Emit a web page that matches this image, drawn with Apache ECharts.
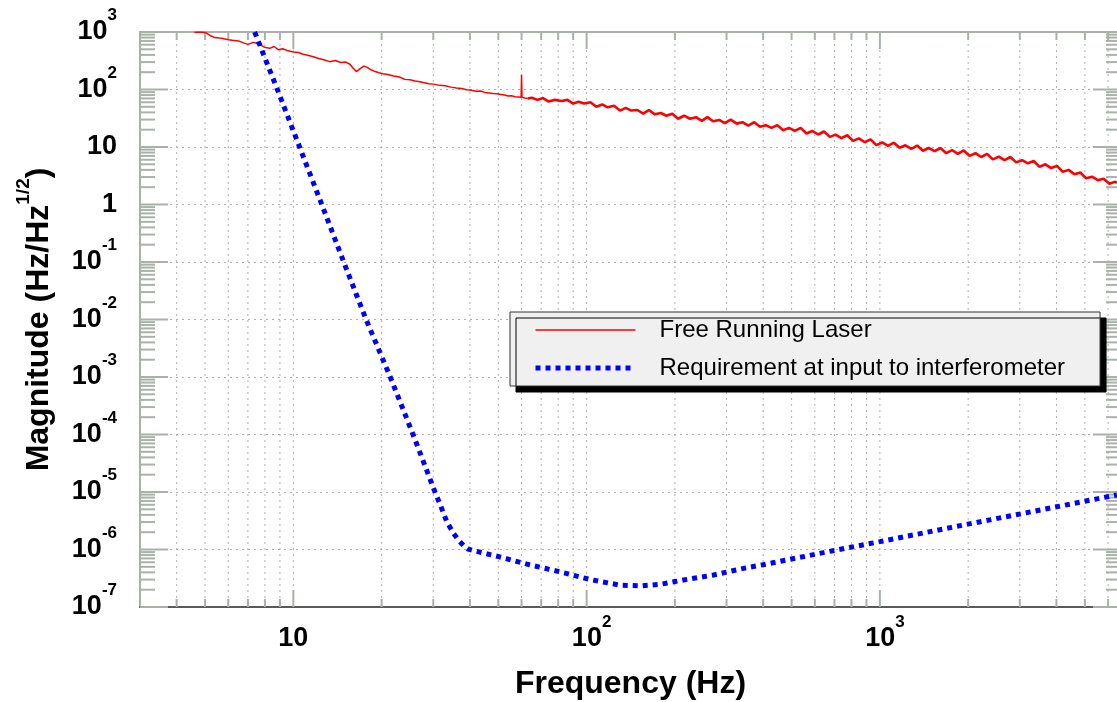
<!DOCTYPE html>
<html>
<head>
<meta charset="utf-8">
<script src="https://cdn.jsdelivr.net/npm/echarts@6/dist/echarts.min.js"></script>
<style>
html, body { margin: 0; padding: 0; background: #fff; }
#chart { width: 1117px; height: 702px; }
</style>
</head>
<body>
<div id="chart"></div>
<script>
// free running laser noise (Hz, Hz/rtHz)
const laserFreq = [
  4.6, 4.8, 5.0, 5.2, 5.4, 5.6, 5.8, 6.0, 6.2, 6.5,
  6.8, 7.0, 7.3, 7.5, 7.8, 8.0, 8.3, 8.6, 8.9, 9.2,
  9.6, 10, 10.4, 10.8, 11.2, 11.7, 12.2, 12.7, 13.3, 13.9,
  14.5, 15.1, 15.6, 16.0, 16.4, 16.9, 17.4, 17.8, 18.4, 19.0,
  19.6, 20.2,
  21, 22, 23, 24, 25, 26, 27, 28, 29, 30,
  31.5, 33, 34.5, 36, 37.5, 39, 40.5, 42, 43.5, 45,
  46.5, 48, 49.5, 51, 52.5, 54, 55.5, 57, 58.5, 59.8,
  60, 60.2, 61.5, 63,
  65, 68, 71, 74, 78, 82, 86, 90, 94, 98,
  103, 108, 113, 118, 124, 130, 136, 142, 149, 156,
  163, 171, 179, 187, 196, 205, 215, 225, 236, 247,
  258, 270, 283, 296, 310, 325, 340, 356, 373, 390,
  408, 427, 447, 468, 490, 513, 537, 562, 588, 616,
  645, 675, 706, 739, 774, 810, 848, 888, 929, 973,
  1018, 1066, 1116, 1168, 1222, 1280, 1340, 1402, 1468, 1537,
  1609, 1684, 1763, 1845, 1932, 2022, 2117, 2216, 2320, 2428,
  2542, 2661, 2786, 2916, 3053, 3196, 3345, 3502, 3666, 3838,
  4017, 4205, 4402, 4608, 4824, 5050, 5287, 5534, 5793, 6065,
  6349, 6430
];
const laserMag = [
  990, 1000, 985, 870, 800, 790, 760, 735, 720, 700,
  640, 610, 660, 640, 580, 540, 520, 560, 490, 510,
  470, 450, 440, 410, 395, 370, 345, 330, 305, 320,
  295, 300, 275, 235, 205, 230, 255, 245, 220, 205,
  195, 188,
  182, 172, 165, 150, 148, 140, 136, 131, 126, 124,
  118, 116, 110, 106, 104, 99, 97, 93, 94, 89,
  87, 85, 84, 82, 80, 77, 78, 75, 74, 73,
  180, 73, 71, 70,
  72, 66, 71, 62, 66, 63, 66, 57, 61, 57,
  60, 50, 55, 49, 52, 43, 48, 43, 44, 38,
  44, 37, 39, 35, 38, 31, 35, 31, 33, 28.5,
  33, 28, 29.5, 26, 30, 25.5, 27, 23.5, 27, 22.5,
  24, 21.5, 24, 19.6, 21.5, 19, 21.5, 17.2, 19, 16.5,
  18.6, 15, 16.4, 14.3, 16, 12.8, 14.1, 12.1, 13.6, 10.8,
  12, 10.5, 11.9, 9.7, 10.7, 9.3, 10.6, 8.6, 9.6, 8.5,
  9.6, 7.8, 8.8, 7.6, 8.7, 7.0, 7.8, 6.7, 7.6, 6.1,
  6.8, 5.9, 6.7, 5.4, 5.9, 5.2, 5.7, 4.5, 5.0, 4.3,
  4.7, 3.7, 4.0, 3.35, 3.6, 2.85, 3.05, 2.65, 2.8, 2.3,
  2.5, 2.35
];
// above this frequency the trace is a dense, noisy band
const laserDenseFrom = 63;

// requirement at input to interferometer
const reqFreq = [
  7.38, 8.82, 10.5, 12.5, 14.85, 17.7, 21.4, 25.6, 30.4, 31.6,
  33.4, 35.2, 36.7, 38.2, 39.4, 42.1, 50.2, 64, 81, 103,
  130, 154, 178, 214, 271, 343, 412, 711, 1000, 1757,
  3160, 6430
];
const reqMag = [
  1000, 100, 10, 1, 0.1, 0.01, 1e-3, 1e-4, 1e-5, 6.2e-6,
  3.0e-6, 1.9e-6, 1.42e-6, 1.15e-6, 1.02e-6, 9.3e-7, 7.5e-7, 5.4e-7, 4.1e-7, 3.0e-7,
  2.4e-7, 2.33e-7, 2.48e-7, 2.95e-7, 3.6e-7, 4.7e-7, 5.6e-7, 9.8e-7, 1.37e-6, 2.43e-6,
  4.36e-6, 8.9e-6
];

const xTickValues = [4, 5, 6, 7, 8, 9, 10, 20, 30, 40, 50, 60, 70, 80, 90,
  100, 200, 300, 400, 500, 600, 700, 800, 900, 1000, 2000, 3000, 4000, 5000, 6000];
const xMajorTicks = [10, 100, 1000];
const yDecades = [-7, -6, -5, -4, -3, -2, -1, 0, 1, 2, 3];
const yMinorSteps = [2, 3, 4, 5, 6, 7, 8, 9];

const FONT = "'Liberation Sans', Arial, Helvetica, sans-serif";
const frameColor = '#a9b1a9';
const gridColor = '#b0b0b0';
const LASER = 'Free Running Laser';
const REQ = 'Requirement at input to interferometer';

const xTickData = xTickValues.map(v => [v, 1, xMajorTicks.includes(v) ? 1 : 0]);
const yTickData = [];
yDecades.forEach(d => {
  yTickData.push([10, Math.pow(10, d), 1]);
  if (d < 3) yMinorSteps.forEach(m => yTickData.push([10, m * Math.pow(10, d), 0]));
});

const laserPairs = laserFreq.map((f, i) => [f, laserMag[i]]);
const laserSparse = laserPairs.filter(p => p[0] <= laserDenseFrom);
const laserDense = laserPairs.filter(p => p[0] >= laserDenseFrom);

function decadeLabel(v, axis) {
  const lg = Math.log10(v);
  const e = Math.round(lg);
  if (Math.abs(lg - e) > 1e-3) return '';
  if (e === 0) return '{b|1}';
  if (e === 1) return '{b|10}';
  return (axis === 'x' ? '{bx|10}' : '{b|10}') + '{s|' + e + '}';
}

const labelRich = {
  b: { fontFamily: FONT, fontWeight: 'bold', fontSize: 27, color: '#000', lineHeight: 50, verticalAlign: 'middle' },
  bx: { fontFamily: FONT, fontWeight: 'bold', fontSize: 27, color: '#000', lineHeight: 50, verticalAlign: 'middle', padding: [0, 0, 0, 10] },
  s: { fontFamily: FONT, fontWeight: 'bold', fontSize: 17, color: '#000', lineHeight: 17, verticalAlign: 'top' }
};

function renderXTick(params, api) {
  const cs = params.coordSys;
  const x = api.coord([api.value(0), 1])[0];
  const len = api.value(2) ? 17 : 8;
  const top = cs.y, bot = cs.y + cs.height;
  return {
    type: 'group',
    children: [
      { type: 'line', shape: { x1: x, y1: top, x2: x, y2: bot }, style: { stroke: gridColor, lineWidth: 1, lineDash: [2, 4] } },
      { type: 'line', shape: { x1: x, y1: bot, x2: x, y2: bot - len }, style: { stroke: frameColor, lineWidth: 2 } },
      { type: 'line', shape: { x1: x, y1: top, x2: x, y2: top + len }, style: { stroke: frameColor, lineWidth: 2 } }
    ]
  };
}

function renderYTick(params, api) {
  const cs = params.coordSys;
  const y = api.coord([10, api.value(1)])[1];
  const len = api.value(2) ? 28 : 15;
  const l = cs.x, r = cs.x + cs.width;
  return {
    type: 'group',
    children: [
      { type: 'line', shape: { x1: l, y1: y, x2: l + len, y2: y }, style: { stroke: frameColor, lineWidth: 2 } },
      { type: 'line', shape: { x1: r, y1: y, x2: r - len, y2: y }, style: { stroke: frameColor, lineWidth: 2 } }
    ]
  };
}

const chart = echarts.init(document.getElementById('chart'), null, { renderer: 'canvas' });

chart.setOption({
  animation: false,
  backgroundColor: '#ffffff',
  grid: {
    left: 140, right: -4, top: 32, bottom: 95,
    show: true, borderColor: frameColor, borderWidth: 2,
    backgroundColor: 'transparent',
    outerBoundsMode: 'none'
  },
  xAxis: {
    type: 'log',
    logBase: 10,
    min: 3,
    max: 6640,
    name: 'Frequency (Hz)',
    nameLocation: 'middle',
    nameGap: 57,
    nameTextStyle: { fontFamily: FONT, fontWeight: 'bold', fontSize: 32, color: '#000', lineHeight: 40 },
    axisLine: { show: true, lineStyle: { color: '#5a5a5a', width: 2 } },
    axisTick: { show: false },
    splitLine: { show: false },
    axisLabel: {
      margin: 7,
      interval: 0,
      formatter: v => decadeLabel(v, 'x'),
      rich: labelRich
    }
  },
  yAxis: {
    type: 'log',
    logBase: 10,
    min: 1e-7,
    // a hair under 1000 so the log scale steps one decade per tick
    max: 999.99,
    splitNumber: 10,
    name: '{t|Magnitude (Hz/Hz}{s|1/2}{t|)}',
    nameLocation: 'middle',
    nameRotate: 90,
    nameGap: 76,
    nameTextStyle: {
      rich: {
        t: { fontFamily: FONT, fontWeight: 'bold', fontSize: 32, color: '#000', lineHeight: 50, verticalAlign: 'middle' },
        s: { fontFamily: FONT, fontWeight: 'bold', fontSize: 19, color: '#000', lineHeight: 19, verticalAlign: 'top' }
      }
    },
    axisLine: { show: false },
    axisTick: { show: false },
    splitLine: { show: true, lineStyle: { color: gridColor, width: 1, type: [2, 4] } },
    axisLabel: {
      margin: 23,
      interval: 0,
      formatter: v => decadeLabel(v, 'y'),
      rich: labelRich
    }
  },
  legend: {
    orient: 'vertical',
    left: 510,
    top: 312,
    padding: [5, 35, 5, 23],
    itemGap: 12,
    itemWidth: 100,
    itemHeight: 14,
    backgroundColor: '#f0f0f0',
    borderColor: '#333333',
    borderWidth: 1,
    shadowColor: '#000000',
    shadowBlur: 0,
    shadowOffsetX: 6,
    shadowOffsetY: 6,
    itemStyle: { opacity: 0 },
    textStyle: { fontFamily: FONT, fontSize: 24, color: '#000', lineHeight: 26, padding: [0, 0, 0, 19] },
    data: [
      { name: LASER, lineStyle: { width: 1.5 } },
      { name: REQ, lineStyle: { width: 5 } }
    ]
  },
  series: [
    {
      name: 'xTicks',
      type: 'custom',
      renderItem: renderXTick,
      data: xTickData,
      silent: true,
      z: 1
    },
    {
      name: 'yTicks',
      type: 'custom',
      renderItem: renderYTick,
      data: yTickData,
      silent: true,
      z: 1
    },
    {
      name: LASER,
      type: 'line',
      data: laserSparse,
      symbol: 'none',
      lineStyle: { color: '#ff0000', width: 1.5 },
      itemStyle: { color: '#ff0000' },
      z: 3
    },
    {
      name: LASER,
      type: 'line',
      data: laserDense,
      symbol: 'none',
      lineStyle: { color: '#ff0000', width: 2.6 },
      itemStyle: { color: '#ff0000' },
      z: 3
    },
    {
      name: REQ,
      type: 'line',
      data: reqFreq.map((f, i) => [f, reqMag[i]]),
      symbol: 'none',
      lineStyle: { color: '#0000ff', width: 5, type: [5, 5] },
      itemStyle: { color: '#0000ff' },
      z: 4
    }
  ]
});
</script>
</body>
</html>
